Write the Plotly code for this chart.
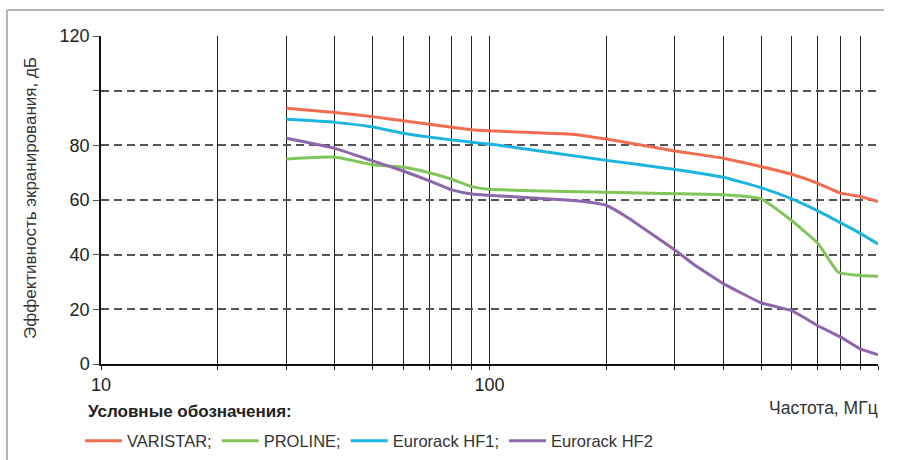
import plotly.graph_objects as go

# ---- data ----
varistar_f = [30, 40, 50, 60, 70, 80, 90, 100, 165, 200, 300, 400, 500, 600, 700, 800, 900, 1000]
varistar_db = [93.6, 92.0, 90.5, 89.0, 87.7, 86.6, 85.7, 85.3, 84.0, 82.3, 77.9, 75.3, 72.2, 69.4, 66.1, 62.5, 61.3, 59.4]

proline_f = [30, 40, 50, 60, 70, 80, 90, 100, 200, 300, 400, 500, 600, 700, 790, 900, 1000]
proline_db = [75.0, 75.7, 72.9, 72.0, 70.0, 67.6, 64.9, 63.9, 62.8, 62.3, 61.9, 60.4, 52.4, 44.2, 33.6, 32.4, 32.1]

hf1_f = [30, 40, 50, 60, 70, 80, 90, 100, 200, 300, 400, 500, 600, 700, 800, 900, 1000]
hf1_db = [89.5, 88.4, 86.7, 84.4, 83.0, 82.0, 81.1, 80.5, 74.5, 71.2, 68.3, 64.5, 60.4, 56.0, 51.7, 47.8, 43.9]

hf2_f = [30, 40, 50, 60, 70, 80, 90, 100, 170, 200, 225, 300, 333, 400, 500, 600, 700, 800, 900, 1000]
hf2_db = [82.6, 78.9, 74.3, 70.6, 67.0, 63.7, 62.2, 61.7, 59.6, 58.0, 53.9, 41.7, 36.8, 29.4, 22.4, 19.5, 14.0, 9.9, 5.5, 3.4]

series_names = ["VARISTAR;", "PROLINE;", "Eurorack HF1;", "Eurorack HF2"]
series_colors = ["#F26C4F", "#80C65A", "#1CB5E0", "#8D67AB"]

x_tickvals = [10, 20, 30, 40, 50, 60, 70, 80, 90, 100, 200, 300, 400, 500, 600, 700, 800, 900, 1000]
x_ticktext = ["10", "", "", "", "", "", "", "", "", "100", "", "", "", "", "", "", "", "", "1000"]
y_tickvals = [0, 20, 40, 60, 80, 100, 120]
y_ticktext = ["0", "20", "40", "60", "80", "", "120"]

y_title = "Эффективность экранирования, дБ"
x_title = "Частота, МГц"
legend_title = "Условные обозначения:"

FONT = "Liberation Sans, Arial, sans-serif"

fig = go.Figure()
for f, db, name, col in zip([varistar_f, proline_f, hf1_f, hf2_f],
                            [varistar_db, proline_db, hf1_db, hf2_db],
                            series_names, series_colors):
    fig.add_trace(go.Scatter(x=f, y=db, name=name, mode="lines",
                             line=dict(color=col, width=3, shape="spline", smoothing=0.4)))

fig.update_layout(
    width=898, height=460,
    margin=dict(l=101, r=20, t=36, b=96, autoexpand=False),
    paper_bgcolor="white", plot_bgcolor="white",
    font=dict(family=FONT, size=18, color="#222222"),
    showlegend=True,
    legend=dict(
        orientation="h", xref="container", yref="container",
        x=0.0891, y=0.0413, xanchor="left", yanchor="middle",
        font=dict(family=FONT, size=16.5, color="#333333"),
        itemwidth=37, tracegroupgap=0,
        bgcolor="rgba(0,0,0,0)",
    ),
    xaxis=dict(
        type="log", range=[1, 3],
        tickvals=x_tickvals, ticktext=x_ticktext,
        showgrid=True, gridcolor="#222222", gridwidth=1,
        showline=True, linecolor="#111111", linewidth=1.5,
        ticks="outside", ticklen=4, tickcolor="#222222",
        zeroline=False,
        tickfont=dict(family=FONT, size=18, color="#222222"),
    ),
    yaxis=dict(
        range=[0, 120],
        tickvals=y_tickvals, ticktext=y_ticktext,
        showgrid=True, gridcolor="#555555", gridwidth=1.5, griddash="8px,5px",
        showline=True, linecolor="#111111", linewidth=1.5,
        ticks="outside", ticklen=6, tickcolor="#555555",
        zeroline=False,
        tickfont=dict(family=FONT, size=18, color="#222222"),
    ),
    annotations=[
        dict(text=y_title, xref="paper", yref="paper", x=-0.0914, y=0.506,
             textangle=-90, showarrow=False, xanchor="center", yanchor="middle",
             font=dict(family=FONT, size=17, color="#333333")),
        dict(text=x_title, xref="paper", yref="paper", x=1.0026, y=-0.134,
             showarrow=False, xanchor="right", yanchor="middle",
             font=dict(family=FONT, size=17.5, color="#333333")),
        dict(text="<b>" + legend_title + "</b>", xref="paper", yref="paper",
             x=-0.019, y=-0.1433, showarrow=False, xanchor="left", yanchor="middle",
             font=dict(family=FONT, size=17, color="#222222")),
    ],
    shapes=[
        dict(type="line", xref="paper", yref="paper", x0=-0.121, x1=1.0077, y0=1.0793, y1=1.0793,
             line=dict(color="#B5B5B5", width=2)),
        dict(type="line", xref="paper", yref="paper", x0=-0.121, x1=-0.121, y0=1.0793, y1=-0.30,
             line=dict(color="#B5B5B5", width=2)),
    ],
)

fig.write_html("out.html", config={"displayModeBar": False},
               post_script="document.body.style.margin='0px';")
